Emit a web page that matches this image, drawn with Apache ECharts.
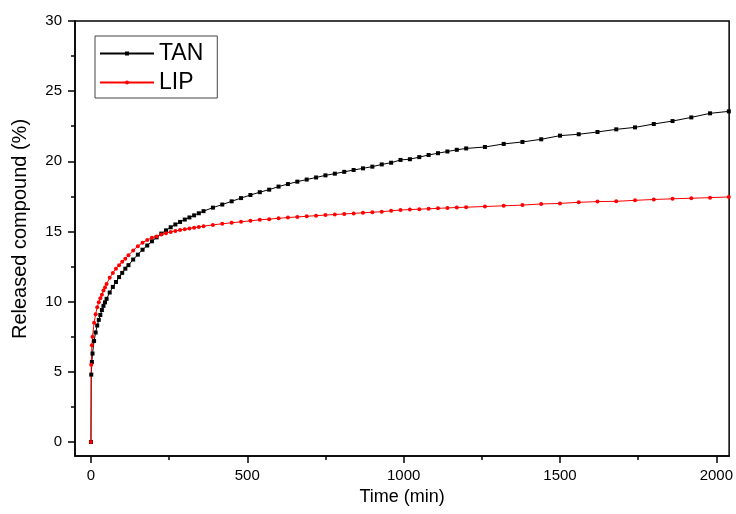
<!DOCTYPE html>
<html>
<head>
<meta charset="utf-8">
<script src="https://cdn.jsdelivr.net/npm/echarts@6/dist/echarts.min.js"></script>
<style>
html,body{margin:0;padding:0;background:#fff;}
#chart{width:736px;height:514px;}
</style>
</head>
<body>
<div id="chart"></div>
<script>
// Sampling times (min)
var times = [0, 1, 3, 5, 10, 15, 20, 25, 30, 35, 40, 45, 50, 60, 70, 80, 90, 100, 110, 120,
  135, 150, 165, 180, 195, 210, 225, 240, 255, 270, 285, 300, 315, 330, 345, 360,
  390, 420, 450, 480, 510, 540, 570, 600, 630, 660, 690, 720, 750, 780, 810, 840, 870, 900,
  930, 960, 990, 1020, 1050, 1080, 1110, 1140, 1170, 1200,
  1260, 1320, 1380, 1440, 1500, 1560, 1620, 1680, 1740, 1800, 1860, 1920, 1980, 2040];

// Released compound (%)
var tanValues = [0, 4.8, 5.7, 6.3, 7.2, 7.8, 8.3, 8.7, 9.05, 9.4, 9.7, 9.95, 10.2, 10.65, 11.05, 11.4, 11.75, 12.05, 12.35, 12.6,
  13.0, 13.35, 13.7, 14.0, 14.3, 14.58, 14.85, 15.08, 15.3, 15.5, 15.68, 15.85, 16.0, 16.15, 16.3, 16.45,
  16.7, 16.92, 17.15, 17.38, 17.6, 17.8, 17.98, 18.2, 18.38, 18.55, 18.7, 18.85, 19.0, 19.12, 19.25, 19.38, 19.5, 19.62,
  19.78, 19.9, 20.1, 20.15, 20.3, 20.45, 20.58, 20.7, 20.82, 20.92,
  21.02, 21.24, 21.38, 21.57, 21.83, 21.93, 22.09, 22.28, 22.42, 22.66, 22.87, 23.13, 23.42, 23.56];

var lipValues = [0, 5.5, 6.9, 7.5, 8.5, 9.1, 9.6, 9.95, 10.25, 10.5, 10.8, 11.0, 11.25, 11.7, 12.05, 12.35, 12.6, 12.85, 13.05, 13.3,
  13.65, 13.95, 14.2, 14.4, 14.55, 14.65, 14.78, 14.88, 14.97, 15.04, 15.1, 15.16, 15.22, 15.27, 15.32, 15.38,
  15.47, 15.55, 15.62, 15.69, 15.76, 15.83, 15.88, 15.94, 15.99, 16.04, 16.08, 16.13, 16.17, 16.21, 16.25, 16.29, 16.33, 16.37,
  16.41, 16.47, 16.53, 16.56, 16.59, 16.62, 16.65, 16.68, 16.71, 16.73,
  16.78, 16.83, 16.88, 16.96, 17.0, 17.08, 17.13, 17.15, 17.22, 17.28, 17.33, 17.37, 17.41, 17.46];

var xMajorTicks = [0, 500, 1000, 1500, 2000];
var xMinorTicks = [250, 750, 1250, 1750];
var yMajorTicks = [0, 5, 10, 15, 20, 25, 30];
var yMinorTicks = [2.5, 7.5, 12.5, 17.5, 22.5, 27.5];

var FONT = 'Liberation Sans, Arial, sans-serif';

function pairs(xs, ys) { return xs.map(function (x, i) { return [x, ys[i]]; }); }

var chart = echarts.init(document.getElementById('chart'), null, {renderer: 'canvas'});

var axisLineStyle = {color: '#000', width: 1.5};

chart.setOption({
  animation: false,
  backgroundColor: '#fff',
  grid: {left: 75, right: 3, top: 21, bottom: 58, show: true, borderColor: '#000', borderWidth: 1.5, containLabel: false},
  legend: {
    orient: 'vertical', left: 95, top: 36,
    data: ['TAN', 'LIP'],
    itemWidth: 54, itemHeight: 5, itemGap: 6,
    padding: [6, 14, 4, 4],
    borderColor: '#444', borderWidth: 1,
    textStyle: {fontFamily: FONT, fontSize: 23, color: '#000', lineHeight: 23}
  },
  xAxis: [{
    type: 'value', min: -51, max: 2041, position: 'bottom',
    name: 'Time (min)', nameLocation: 'middle', nameGap: 31,
    nameTextStyle: {fontFamily: FONT, fontSize: 18, color: '#000'},
    splitLine: {show: false},
    axisLine: {show: true, onZero: false, lineStyle: axisLineStyle},
    axisTick: {show: true, length: 7, lineStyle: {color: '#000', width: 1.5}, customValues: xMajorTicks},
    axisLabel: {fontFamily: FONT, fontSize: 15, color: '#000', margin: 12, customValues: xMajorTicks,
      formatter: function (v) { return String(v); }}
  }, {
    type: 'value', min: -51, max: 2041, position: 'bottom', offset: 0,
    splitLine: {show: false},
    axisLine: {show: false, onZero: false},
    axisTick: {show: true, length: 4, lineStyle: {color: '#000', width: 1.5}, customValues: xMinorTicks},
    axisLabel: {show: false}
  }],
  yAxis: [{
    type: 'value', min: -1, max: 30, position: 'left',
    splitLine: {show: false},
    axisLine: {show: true, onZero: false, lineStyle: axisLineStyle},
    axisTick: {show: true, length: 7, lineStyle: {color: '#000', width: 1.5}, customValues: yMajorTicks},
    axisLabel: {fontFamily: FONT, fontSize: 15, color: '#000', margin: 13, customValues: yMajorTicks,
      formatter: function (v) { return String(v); }}
  }, {
    type: 'value', min: -1, max: 30, position: 'left', offset: 0,
    splitLine: {show: false},
    axisLine: {show: false, onZero: false},
    axisTick: {show: true, length: 4, lineStyle: {color: '#000', width: 1.5}, customValues: yMinorTicks},
    axisLabel: {show: false}
  }],
  graphic: [{
    type: 'text', x: 20, y: 229, rotation: Math.PI / 2,
    style: {text: 'Released compound (%)', fontFamily: FONT, fontSize: 20, fill: '#000', textAlign: 'center', textVerticalAlign: 'middle'}
  }],
  series: [{
    name: 'TAN', type: 'line', data: pairs(times, tanValues),
    symbol: 'rect', symbolSize: 4, showAllSymbol: true,
    lineStyle: {color: '#000', width: 1},
    itemStyle: {color: '#000'}
  }, {
    name: 'LIP', type: 'line', data: pairs(times, lipValues),
    symbol: 'circle', symbolSize: 4, showAllSymbol: true,
    lineStyle: {color: '#ff0000', width: 1},
    itemStyle: {color: '#ff0000'}
  }]
});
</script>
</body>
</html>
